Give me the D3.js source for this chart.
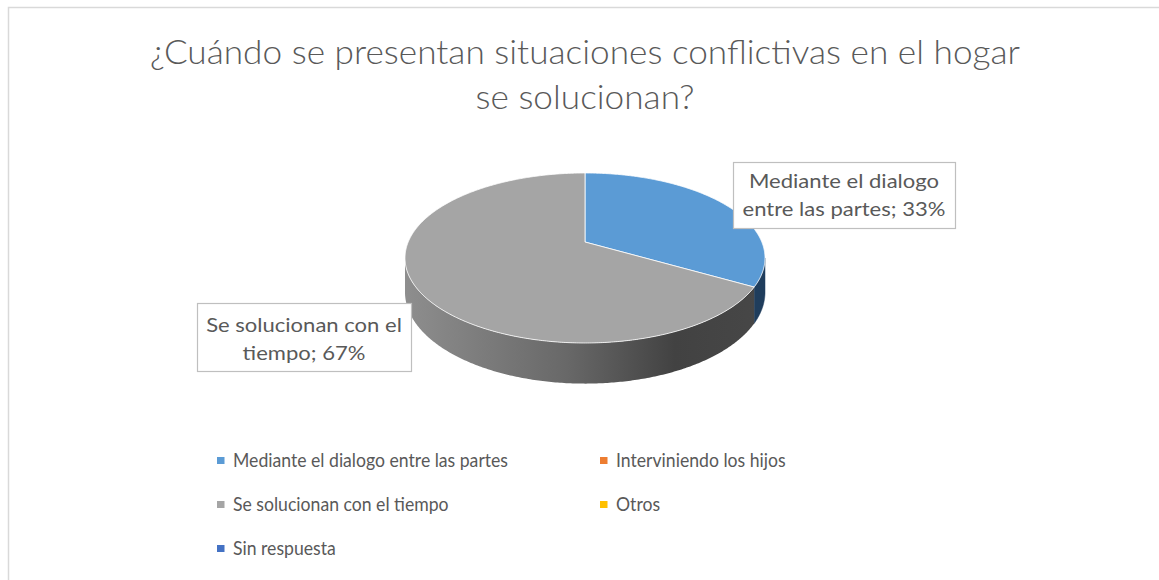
<!DOCTYPE html>
<html>
<head>
<meta charset="utf-8">
<script src="https://cdn.jsdelivr.net/npm/d3@7"></script>
<style>
  body { margin: 0; background: #fff; }
  svg { display: block; }
  text { font-family: Lato, "Open Sans", sans-serif; }
</style>
</head>
<body>
<svg id="chart" width="1159" height="580"></svg>
<script>
// chart data
var categories = ["Mediante el dialogo entre las partes", "Interviniendo los hijos",
                  "Se solucionan con el tiempo", "Otros", "Sin respuesta"];
var values = [33.3, 0, 66.7, 0, 0];
var pctLabels = ["33%", "0%", "67%", "0%", "0%"];
var colors = ["#5b9bd5", "#ed7d31", "#a5a5a5", "#ffc000", "#4472c4"];
var sideColors = ["#1f3d5c", "#8a4515", "#6a6a6a", "#8c6a00", "#223d6d"];
var titleLines = ["¿Cuándo se presentan situaciones conflictivas en el hogar", "se solucionan?"];

var svg = d3.select("#chart");
var W = 1159, H = 580;

// the reference font is narrower than Lato: keep the height, squeeze the width
function condense(sel, want) {
  var ratio = want / sel.node().getComputedTextLength();
  sel.each(function () {
    var w = this.getComputedTextLength();
    d3.select(this).attr("textLength", w * ratio).attr("lengthAdjust", "spacingAndGlyphs");
  });
}

// chart frame (runs off the right/bottom of the window)
svg.append("rect")
  .attr("x", 8.5).attr("y", 7.5)
  .attr("width", W + 20).attr("height", H + 20)
  .attr("fill", "#fff").attr("stroke", "#d9d9d9").attr("stroke-width", 1.5);

// title
var title = svg.append("g").selectAll("text")
  .data(titleLines).enter().append("text")
  .attr("x", 585)
  .attr("y", function (d, i) { return 64 + i * 45; })
  .attr("text-anchor", "middle")
  .attr("font-size", 34)
  .attr("font-weight", 300)
  .attr("fill", "#595959")
  .text(function (d) { return d; });
condense(title, 870);

// 3d pie with a little perspective
var cx = 585, cy = 242, R = 176.8, B = 82, persp = 0.188, depth = 33;

function proj(theta, down) {
  var u = Math.sin(theta), v = -Math.cos(theta);
  var k = 1 / (1 - persp * v);
  return [cx + R * u * k, cy + B * v * k + (down ? depth * k : 0)];
}

var pie = d3.pie().sort(null).value(function (d) { return d; })
  .startAngle(0).endAngle(2 * Math.PI);
var arcs = pie(values);

var defs = svg.append("defs");
var grad = defs.append("linearGradient").attr("id", "sideGray")
  .attr("gradientUnits", "userSpaceOnUse")
  .attr("x1", 405).attr("x2", 765).attr("y1", 0).attr("y2", 0);
grad.append("stop").attr("offset", "0").attr("stop-color", "#8e8e8e");
grad.append("stop").attr("offset", "0.45").attr("stop-color", "#686868");
grad.append("stop").attr("offset", "0.75").attr("stop-color", "#424242");
grad.append("stop").attr("offset", "1").attr("stop-color", "#474747");

function samples(a0, a1) {
  var n = Math.max(2, Math.ceil((a1 - a0) / 0.01));
  return d3.range(n + 1).map(function (i) { return a0 + (a1 - a0) * i / n; });
}

// visible front wall lies between the silhouette tangents
var frontA = Math.acos(-persp), frontB = 2 * Math.PI - frontA;
var line = d3.line();

var walls = svg.append("g");
arcs.forEach(function (a, i) {
  if (a.endAngle - a.startAngle <= 0) return;
  var s = Math.max(a.startAngle, frontA), e = Math.min(a.endAngle, frontB);
  if (e <= s) return;
  var ts = samples(s, e);
  var pts = ts.map(function (t) { return proj(t, false); })
    .concat(ts.slice().reverse().map(function (t) { return proj(t, true); }));
  walls.append("path")
    .attr("d", line(pts) + "Z")
    .attr("fill", i === 2 ? "url(#sideGray)" : sideColors[i])
    .attr("stroke", i === 2 ? "none" : sideColors[i]).attr("stroke-width", 0.5);
});

var tops = svg.append("g");
arcs.forEach(function (a, i) {
  if (a.endAngle - a.startAngle <= 0) return;
  var pts = [[cx, cy]].concat(samples(a.startAngle, a.endAngle).map(function (t) { return proj(t, false); }));
  tops.append("path")
    .attr("d", line(pts) + "Z")
    .attr("fill", colors[i])
    .attr("stroke", "#ffffff").attr("stroke-opacity", 0.8).attr("stroke-width", 1)
    .attr("stroke-linejoin", "round");
});

// data labels
var labelBoxes = [
  { idx: 0, lines: ["Mediante el dialogo", "entre las partes; " + pctLabels[0]], x: 733, y: 162, w: 222, h: 66, base: 26 },
  { idx: 2, lines: ["Se solucionan con el", "tiempo; " + pctLabels[2]], x: 197, y: 303, w: 214, h: 68, base: 29 }
];
var lab = svg.append("g").selectAll("g").data(labelBoxes).enter().append("g");
lab.append("rect")
  .attr("x", function (d) { return d.x + 0.5; }).attr("y", function (d) { return d.y + 0.5; })
  .attr("width", function (d) { return d.w; }).attr("height", function (d) { return d.h; })
  .attr("fill", "#fff").attr("stroke", "#bfbfbf").attr("stroke-width", 1.2);
lab.each(function (d) {
  d3.select(this).selectAll("text").data(d.lines).enter().append("text")
    .attr("x", d.x + d.w / 2)
    .attr("y", function (t, j) { return d.y + d.base + j * 27.5; })
    .attr("text-anchor", "middle")
    .attr("font-size", 20)
    .attr("fill", "#595959")
    .text(function (t) { return t; });
});
condense(lab.selectAll("text"), 190);

// legend
var legendPos = [[217, 460], [600, 460], [217, 504], [600, 504], [217, 548]];
var leg = svg.append("g").selectAll("g").data(categories).enter().append("g")
  .attr("transform", function (d, i) { return "translate(" + legendPos[i][0] + "," + legendPos[i][1] + ")"; });
leg.append("rect")
  .attr("x", 0).attr("y", -3).attr("width", 7.5).attr("height", 7)
  .attr("fill", function (d, i) { return colors[i]; });
var legText = leg.append("text")
  .attr("x", 16).attr("y", 7)
  .attr("font-size", 20)
  .attr("fill", "#595959")
  .text(function (d) { return d; });
condense(legText, 275);
</script>
</body>
</html>
